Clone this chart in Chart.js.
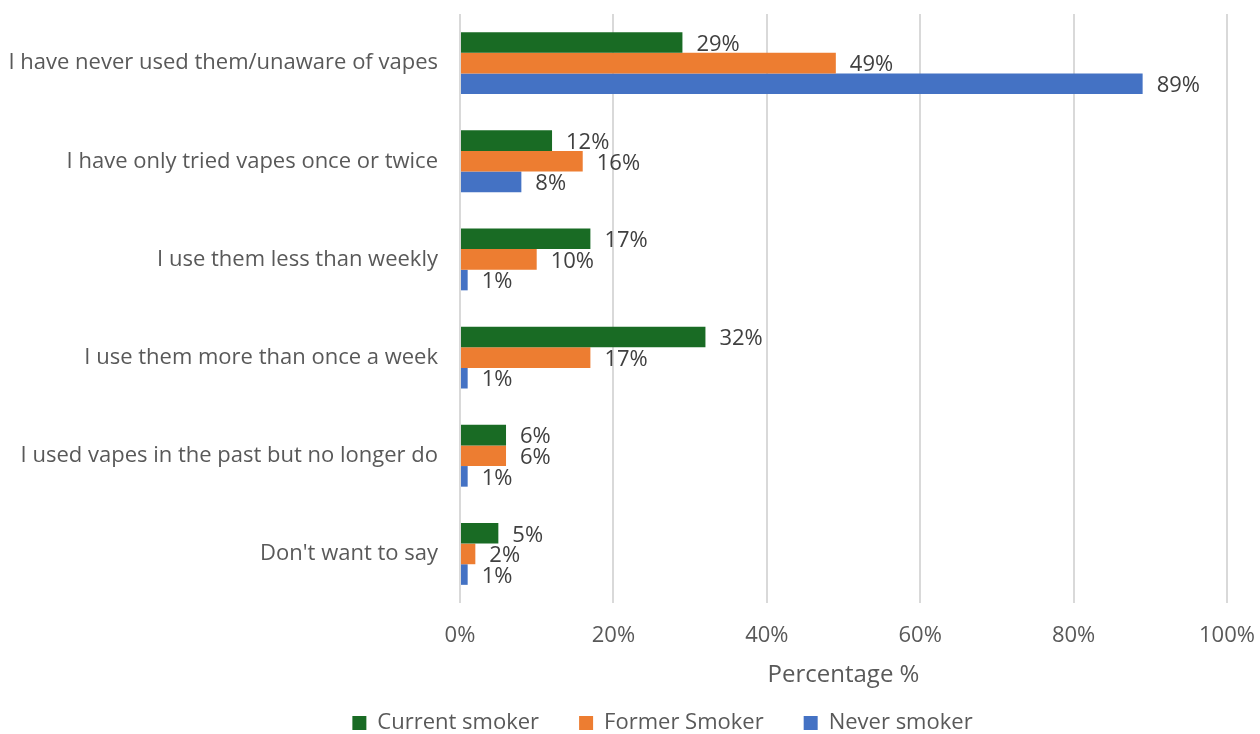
<!DOCTYPE html>
<html>
<head>
<meta charset="utf-8">
<script src="https://cdn.jsdelivr.net/npm/chart.js@4"></script>
<style>
  html, body { margin: 0; padding: 0; background: #fff; }
  #wrap { width: 1260px; height: 734px; position: relative; }
</style>
</head>
<body>
<div id="wrap"><canvas id="vapeChart"></canvas></div>
<script>
// Vape use by smoking status
const categories = [
    'I have never used them/unaware of vapes',
    'I have only tried vapes once or twice',
    'I use them less than weekly',
    'I use them more than once a week',
    'I used vapes in the past but no longer do',
    "Don't want to say"
];
const currentSmoker = [29, 12, 17, 32, 6, 5];
const formerSmoker = [49, 16, 10, 17, 6, 2];
const neverSmoker = [89, 8, 1, 1, 1, 1];
const tickValues = [0, 20, 40, 60, 80, 100];

const fontFamily = '"Open Sans", "Liberation Sans", sans-serif';
const textGrey = '#595959';

// writes the value next to the end of every bar
const barValueLabels = {
    id: 'barValueLabels',
    afterDatasetsDraw(chart) {
        const c = chart.ctx;
        c.save();
        c.font = '22px ' + fontFamily;
        c.fillStyle = '#404040';
        c.textAlign = 'left';
        c.textBaseline = 'middle';
        chart.data.datasets.forEach(function (ds, i) {
            chart.getDatasetMeta(i).data.forEach(function (bar, j) {
                c.fillText(ds.data[j] + '%', bar.x + 14, bar.y + 2);
            });
        });
        c.restore();
    }
};

// keep the legend strip short so the axis gets the room,
// and nudge it a little to the right
const compactLegend = {
    id: 'compactLegend',
    beforeInit(chart) {
        const legend = chart.legend;
        const origFit = legend.fit;
        const origDraw = legend.draw;
        legend.fit = function () {
            origFit.call(this);
            this.height = 62;
        };
        legend.draw = function () {
            this.ctx.save();
            this.ctx.translate(45, 0);
            origDraw.call(this);
            this.ctx.restore();
        };
    }
};

const ctx = document.getElementById('vapeChart').getContext('2d');
new Chart(ctx, {
    type: 'bar',
    data: {
        labels: categories,
        datasets: [{
            label: 'Current smoker',
            data: currentSmoker,
            backgroundColor: '#196B24'
        }, {
            label: 'Former Smoker',
            data: formerSmoker,
            backgroundColor: '#ED7D31'
        }, {
            label: 'Never smoker',
            data: neverSmoker,
            backgroundColor: '#4472C4'
        }]
    },
    options: {
        indexAxis: 'y',
        responsive: true,
        maintainAspectRatio: false,
        animation: false,
        datasets: {
            bar: { barPercentage: 1, categoryPercentage: 0.63, borderWidth: 0 }
        },
        layout: { padding: { left: 8, right: 33, top: 14, bottom: 0 } },
        scales: {
            x: {
                min: 0,
                max: 100,
                afterBuildTicks: function (scale) {
                    scale.ticks = tickValues.map(v => ({ value: v }));
                },
                afterFit: function (scale) {
                    scale.height = 69;
                    scale.paddingLeft = 0;
                    scale.paddingRight = 0;
                },
                ticks: {
                    color: textGrey,
                    font: { size: 22, family: fontFamily },
                    padding: 20,
                    callback: v => v + '%'
                },
                grid: { color: '#d9d9d9', lineWidth: 2, drawTicks: false },
                border: { display: false },
                title: {
                    display: true,
                    text: 'Percentage %',
                    color: textGrey,
                    font: { size: 24, family: fontFamily },
                    padding: -18
                }
            },
            y: {
                afterFit: function (scale) {
                    scale.width = 452;
                    scale.paddingTop = 0;
                    scale.paddingBottom = 0;
                },
                ticks: {
                    color: textGrey,
                    font: { size: 22, family: fontFamily },
                    padding: 22
                },
                grid: { display: false, drawTicks: false },
                border: { display: false }
            }
        },
        plugins: {
            legend: {
                position: 'bottom',
                labels: {
                    color: textGrey,
                    font: { size: 22, family: fontFamily },
                    boxWidth: 14,
                    boxHeight: 14,
                    padding: 40
                }
            },
            tooltip: { enabled: false }
        }
    },
    plugins: [barValueLabels, compactLegend]
});
</script>
</body>
</html>
